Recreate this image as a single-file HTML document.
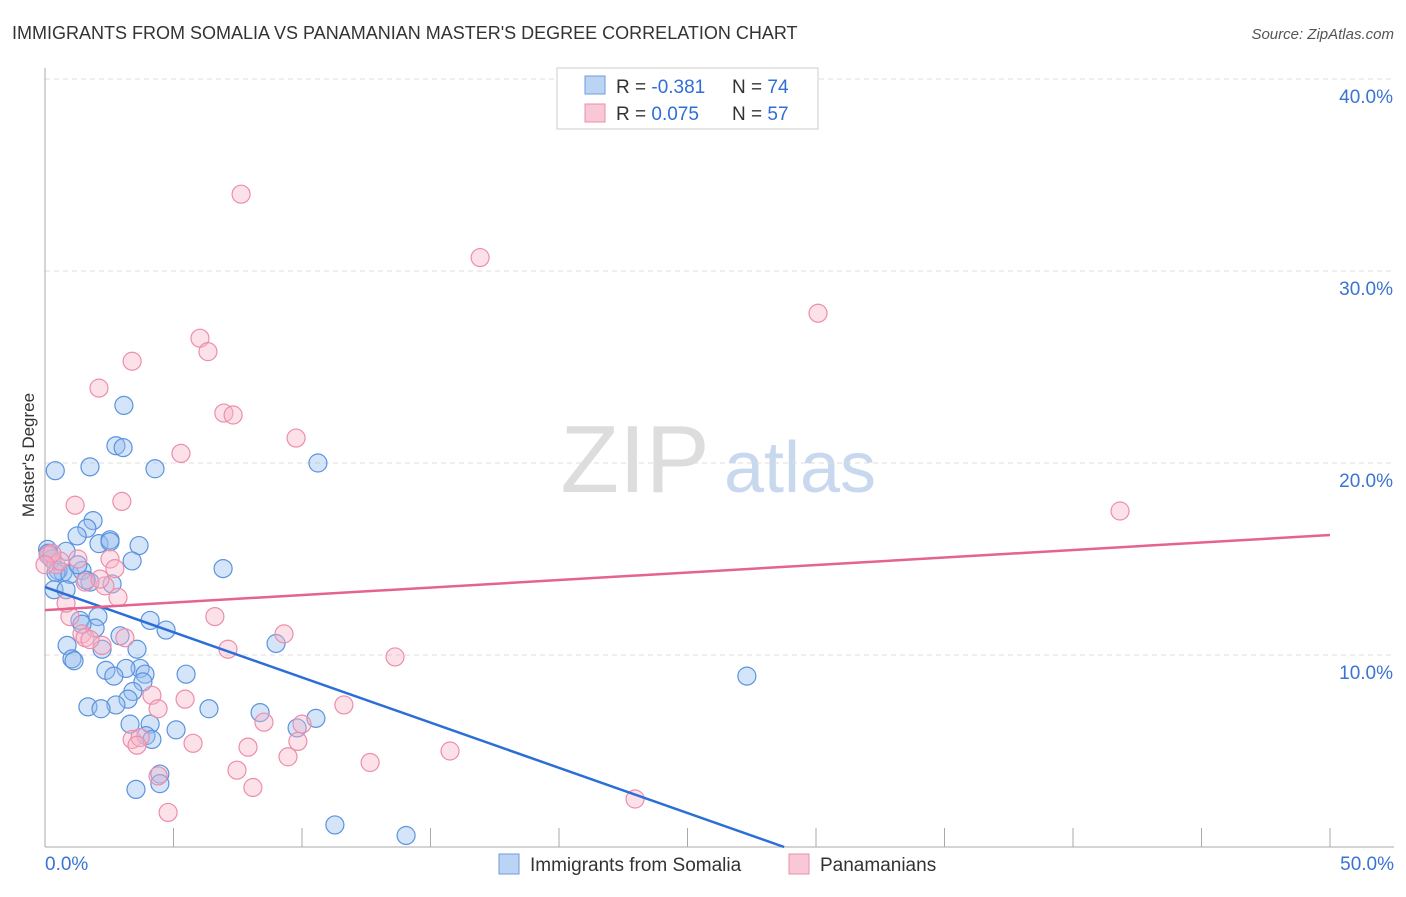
<!DOCTYPE html>
<html><head><meta charset="utf-8"><style>
body{margin:0;background:#fff;font-family:"Liberation Sans",sans-serif;}
svg text{font-family:"Liberation Sans",sans-serif;}
</style></head><body>
<svg width="1406" height="892" xmlns="http://www.w3.org/2000/svg" id="chart">
<text x="12" y="39" font-size="18" fill="#333">IMMIGRANTS FROM SOMALIA VS PANAMANIAN MASTER'S DEGREE CORRELATION CHART</text>
<text x="1394" y="39" font-size="15" fill="#555" font-style="italic" text-anchor="end">Source: ZipAtlas.com</text>
<text x="635" y="492" font-size="96" fill="#ddd" font-family="Liberation Serif" text-anchor="middle">ZIP</text>
<text x="800" y="492" font-size="72" fill="#c8d8ee" text-anchor="middle">atlas</text>
<g id="grid"></g>
<g id="axes"></g>
<g id="pts"></g>
<g id="trend"></g>
<text transform="translate(34,455) rotate(-90)" font-size="17" fill="#333" text-anchor="middle">Master's Degree</text>
<g>
<rect x="557" y="68" width="261" height="61" fill="#fff" stroke="#ccc"/>
<rect x="585" y="76" width="20" height="18" fill="#bcd4f4" stroke="#6b9de0"/>
<rect x="585" y="104" width="20" height="18" fill="#f9c8d6" stroke="#ec8eab"/>
<text x="616" y="93" font-size="19" fill="#333">R = <tspan fill="#2e6fd6">-0.381</tspan></text>
<text x="732" y="93" font-size="19" fill="#333">N = <tspan fill="#2e6fd6">74</tspan></text>
<text x="616" y="120" font-size="19" fill="#333">R = <tspan fill="#2e6fd6"> 0.075</tspan></text>
<text x="732" y="120" font-size="19" fill="#333">N = <tspan fill="#2e6fd6">57</tspan></text>
</g>
<g>
<rect x="499" y="854" width="20" height="20" fill="#bcd4f4" stroke="#6b9de0"/>
<text x="530" y="871" font-size="19" fill="#333">Immigrants from Somalia</text>
<rect x="789" y="854" width="20" height="20" fill="#f9c8d6" stroke="#ec8eab"/>
<text x="820" y="871" font-size="19" fill="#333">Panamanians</text>
</g>
</svg>
<script>
const xTicks=[0,5,10,15,20,25,30,35,40,45,50];
const yTicks=[10,20,30,40];
const yTickLabels=["10.0%","20.0%","30.0%","40.0%"];
const blueX=[0.1,0.4,1.75,3.07,2.76,3.04,4.28,10.62,1.87,1.63,1.25,2.1,2.53,2.53,3.66,3.39,0.12,0.27,0.82,0.7,0.51,0.43,0.97,1.44,1.75,2.61,1.6,1.28,6.93,0.35,0.82,1.36,2.06,1.95,1.44,4.09,4.71,2.92,3.58,0.86,1.05,1.13,2.22,8.99,27.31,5.49,3.7,3.15,2.37,3.89,2.68,3.81,3.42,3.23,2.76,1.67,2.18,6.38,8.37,10.54,9.81,5.1,4.09,3.93,4.16,3.31,4.47,4.47,3.54,11.28,14.05,0.12];
const blueY=[15.5,19.6,19.8,23.0,20.9,20.8,19.7,20.0,17.0,16.6,16.2,15.8,16.0,15.9,15.7,14.9,15.3,15.0,15.4,14.3,14.4,14.3,14.2,14.4,13.8,13.7,13.9,14.7,14.5,13.4,13.4,11.8,12.0,11.4,11.6,11.8,11.3,11.0,10.3,10.5,9.8,9.7,10.3,10.6,8.9,9.0,9.3,9.3,9.2,9.0,8.9,8.6,8.1,7.7,7.4,7.3,7.2,7.2,7.0,6.7,6.2,6.1,6.4,5.8,5.6,6.4,3.8,3.3,3.0,1.15,0.6,15.2];
const pinkX=[7.63,16.93,30.08,6.03,6.34,3.39,2.1,6.96,7.32,9.77,5.29,41.83,2.99,1.17,0.12,0.43,1.28,2.53,1.56,2.33,2.72,2.84,0.97,0.82,1.44,1.56,6.61,3.11,2.22,7.12,9.3,13.62,4.16,4.4,5.45,11.63,8.52,10.0,9.84,3.39,3.7,3.58,5.76,7.9,15.76,9.455,12.65,7.47,4.4,8.09,4.79,22.96,0.58,2.14,0.27,0.0,1.75];
const pinkY=[34.0,30.7,27.8,26.5,25.8,25.3,23.9,22.6,22.5,21.3,20.5,17.5,18.0,17.8,15.2,14.7,15.0,15.0,13.8,13.6,14.5,13.0,12.0,12.7,11.1,10.9,12.0,10.9,10.5,10.3,11.1,9.9,7.9,7.2,7.7,7.4,6.5,6.4,5.5,5.6,5.7,5.3,5.4,5.2,5.0,4.7,4.4,4.0,3.7,3.1,1.8,2.5,14.9,13.95,15.3,14.7,10.8];
const trendX=[0,50];
const blueTrend=[13.54,-10.0];
const pinkTrend=[12.34,16.25];
const X=v=>45+v*25.7, Y=v=>847-v*19.2;
const NS="http://www.w3.org/2000/svg";
function mk(tag,attrs,parent){const e=document.createElementNS(NS,tag);for(const k in attrs)e.setAttribute(k,attrs[k]);document.getElementById(parent).appendChild(e);return e;}
yTicks.forEach((t,i)=>{
 const l=mk('line',{x1:45,x2:1394,y1:Y(t),y2:Y(t),stroke:'#ddd','stroke-dasharray':'5,4'},'grid');
 
 
 const tx=mk('text',{x:1393,y:Y(t)+24,'font-size':19,fill:'#3b73d3','text-anchor':'end'},'grid');
 tx.textContent=yTickLabels[i];
 
 
});
const ax=mk('line',{x1:45,x2:45,y1:68,y2:847,stroke:'#aaa'},'axes');


const bx=mk('line',{x1:45,x2:1394,y1:847,y2:847,stroke:'#aaa'},'axes');


xTicks.forEach(t=>{
 const l=mk('line',{x1:X(t),x2:X(t),y1:828,y2:847,stroke:'#aaa'},'axes');
 
 
});
const xl0=mk('text',{x:45,y:870,'font-size':19,fill:'#3b73d3'},'axes');xl0.textContent='0.0%';


const xl1=mk('text',{x:1394,y:870,'font-size':19,fill:'#3b73d3','text-anchor':'end'},'axes');xl1.textContent='50.0%';


blueX.forEach((v,i)=>{
 const c=mk('circle',{cx:X(v),cy:Y(blueY[i]),r:9,fill:'rgba(150,190,240,0.4)',stroke:'#5b93dd','stroke-width':1.2},'pts');
 
 
});
pinkX.forEach((v,i)=>{
 const c=mk('circle',{cx:X(v),cy:Y(pinkY[i]),r:9,fill:'rgba(248,180,200,0.4)',stroke:'#ec8eab','stroke-width':1.2},'pts');
 
 
});
const bs=(blueTrend[1]-blueTrend[0])/(trendX[1]-trendX[0]);
const bEnd=-blueTrend[0]/bs;
const bl=mk('line',{x1:X(trendX[0]),y1:Y(blueTrend[0]),x2:X(bEnd),y2:Y(0),stroke:'#2b6fd6','stroke-width':2.5},'trend');


const pl=mk('line',{x1:X(trendX[0]),y1:Y(pinkTrend[0]),x2:X(trendX[1]),y2:Y(pinkTrend[1]),stroke:'#e5638c','stroke-width':2.5},'trend');


</script>
</body></html>
